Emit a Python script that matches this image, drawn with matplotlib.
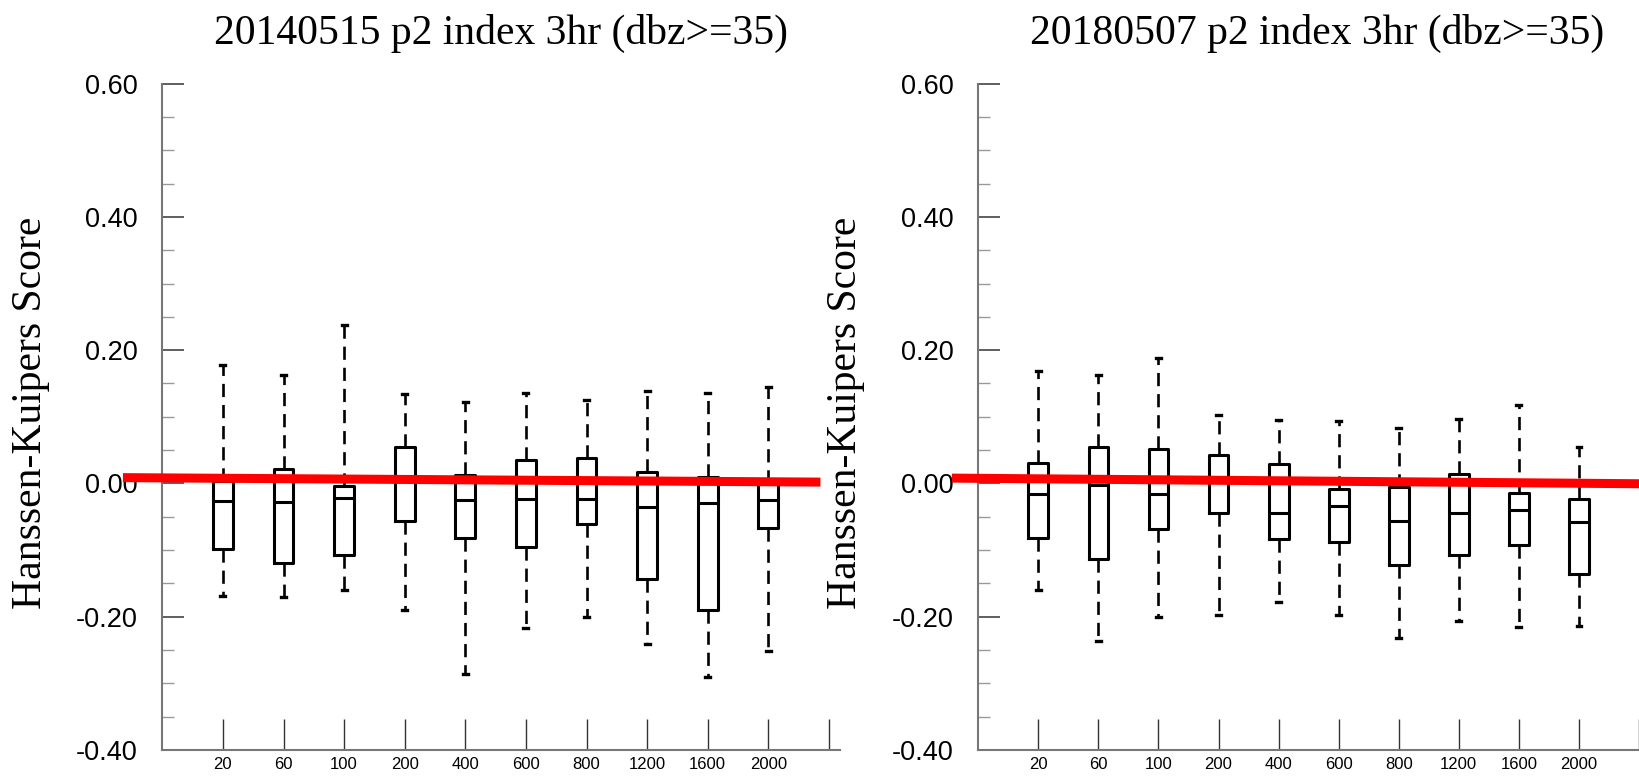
import matplotlib
matplotlib.use('Agg')
import matplotlib.pyplot as plt
from matplotlib.ticker import MultipleLocator, FormatStrFormatter

# window sizes along the x axis
sizes = ['20', '60', '100', '200', '400', '600', '800', '1200', '1600', '2000']

# 20140515 case: whisker ends, quartiles, medians
hi_2014 = [0.178, 0.163, 0.238, 0.134, 0.122, 0.135, 0.125, 0.138, 0.136, 0.144]
q3_2014 = [0.003, 0.021, -0.004, 0.054, 0.013, 0.035, 0.038, 0.017, 0.010, 0.001]
med_2014 = [-0.027, -0.028, -0.022, 0.005, -0.025, -0.023, -0.023, -0.036, -0.029, -0.025]
q1_2014 = [-0.098, -0.120, -0.108, -0.056, -0.082, -0.095, -0.061, -0.143, -0.190, -0.067]
lo_2014 = [-0.169, -0.170, -0.160, -0.190, -0.286, -0.217, -0.200, -0.241, -0.290, -0.251]

# 20180507 case
hi_2018 = [0.168, 0.163, 0.188, 0.102, 0.095, 0.094, 0.083, 0.097, 0.118, 0.054]
q3_2018 = [0.031, 0.054, 0.052, 0.043, 0.029, -0.008, -0.005, 0.014, -0.015, -0.023]
med_2018 = [-0.016, -0.002, -0.016, 0.004, -0.044, -0.034, -0.057, -0.044, -0.040, -0.058]
q1_2018 = [-0.082, -0.114, -0.069, -0.044, -0.083, -0.088, -0.123, -0.108, -0.093, -0.136]
lo_2018 = [-0.160, -0.236, -0.201, -0.197, -0.178, -0.198, -0.232, -0.207, -0.215, -0.214]

# red reference line (x in box index units, y in score)
ref_x_2014 = [-0.65, 10.86]
ref_y_2014 = [0.0087, 0.002]
ref_x_2018 = [-0.44, 11.05]
ref_y_2018 = [0.008, -0.0005]

W, H = 1639, 776
fig = plt.figure(figsize=(W / 100, H / 100), dpi=100)

sans = ['Liberation Sans', 'DejaVu Sans']
narrow = ['Liberation Sans Narrow', 'Liberation Sans', 'DejaVu Sans']
serif = ['Liberation Serif', 'DejaVu Serif']

step = 60.6  # pixels per box slot


def panel(left_px, right_px, title, hi, q3, med, q1, lo, rx, ry):
    ax = fig.add_axes([left_px / W, 26 / H, (right_px - left_px) / W, 666.4 / H])
    stats = []
    for i in range(len(sizes)):
        stats.append(dict(whishi=hi[i], q3=q3[i], med=med[i], q1=q1[i], whislo=lo[i]))
    ax.bxp(stats, positions=range(1, len(sizes) + 1), widths=0.33,
           showfliers=False, capwidths=0.08,
           boxprops=dict(color='black', linewidth=2.2),
           medianprops=dict(color='black', linewidth=2.2),
           whiskerprops=dict(color='black', linewidth=1.9, linestyle=(0, (5, 3))),
           capprops=dict(color='black', linewidth=2.4))

    ax.plot(rx, ry, color='red', linewidth=6.5, clip_on=False, zorder=10,
            solid_capstyle='butt')

    ax.set_xlim(0, (right_px - left_px) / step)
    ax.set_ylim(-0.4, 0.6)
    for s in ['top', 'right']:
        ax.spines[s].set_visible(False)
    for s in ['left', 'bottom']:
        ax.spines[s].set_color('#777777')
        ax.spines[s].set_linewidth(1.5)

    ax.yaxis.set_major_locator(MultipleLocator(0.2))
    ax.yaxis.set_minor_locator(MultipleLocator(0.05))
    ax.yaxis.set_major_formatter(FormatStrFormatter('%.2f'))
    ax.tick_params(axis='y', which='major', direction='in', length=16, width=1.2,
                   color='#444444', pad=18, labelsize=19.5)
    ax.tick_params(axis='y', which='minor', direction='in', length=8.5, width=1.0,
                   color='#999999')
    for lab in ax.get_yticklabels():
        lab.set_family(sans)

    ax.set_xticks(range(1, 12))
    ax.set_xticklabels(sizes + [''])
    ax.tick_params(axis='x', which='major', direction='in', length=22, width=1.0,
                   color='#333333', pad=5, labelsize=12)
    for lab in ax.get_xticklabels():
        lab.set_family(narrow)

    ax.patch.set_alpha(0)
    center = (left_px + 338.9) / W
    fig.text(center, 1 - 44 / H, title, ha='center', va='baseline',
             fontsize=30, family=serif)
    return ax


panel(162.3, 840, '20140515 p2 index 3hr (dbz>=35)',
      hi_2014, q3_2014, med_2014, q1_2014, lo_2014, ref_x_2014, ref_y_2014)
panel(978.3, 1639, '20180507 p2 index 3hr (dbz>=35)',
      hi_2018, q3_2018, med_2018, q1_2018, lo_2018, ref_x_2018, ref_y_2018)

for xc in [31, 845.5]:
    fig.text(xc / W, 1 - 413 / H, 'Hanssen-Kuipers Score', rotation=90,
             ha='center', va='center', fontsize=30, family=serif)

fig.savefig('out.png', dpi=100)
